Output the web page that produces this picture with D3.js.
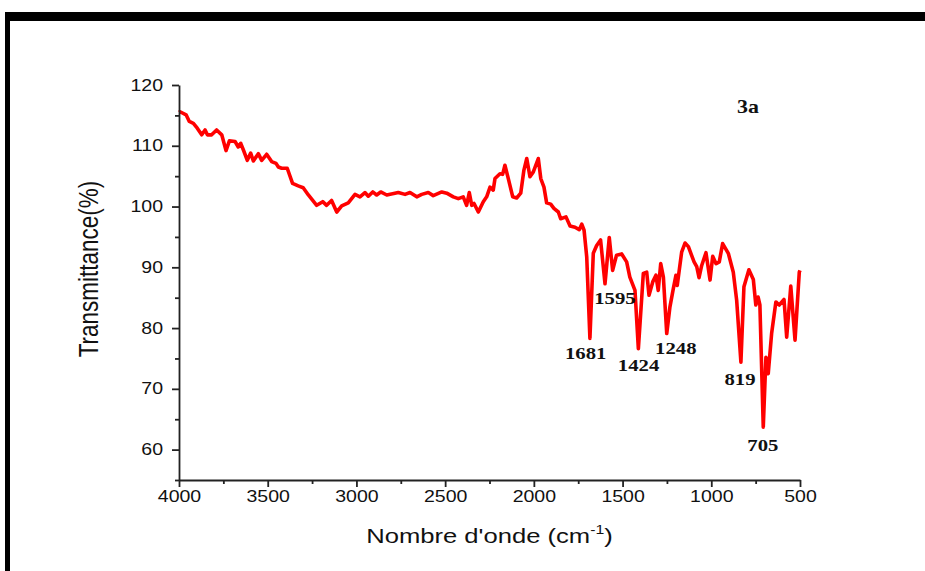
<!DOCTYPE html>
<html>
<head>
<meta charset="utf-8">
<script src="https://cdn.jsdelivr.net/npm/d3@7"></script>
<style>
  body { margin: 0; background: #fff; }
  svg { display: block; }
</style>
</head>
<body>
<div id="chart"></div>
<script>
// IR spectrum: [wavenumber cm-1, transmittance %]
const spectrum = [
  [4000,115.5],[3994,115.6],[3960,115.1],[3942,114.0],[3919,113.7],[3897,112.9],[3872,111.8],
  [3853,112.6],[3840,111.8],[3816,111.8],[3788,112.6],[3759,111.8],[3735,109.2],[3716,110.8],
  [3684,110.7],[3666,109.8],[3652,110.4],[3637,109.3],[3615,107.6],[3596,108.8],[3581,107.5],
  [3553,108.7],[3534,107.6],[3506,108.6],[3478,107.4],[3453,107.1],[3440,106.5],[3421,106.3],
  [3390,106.3],[3360,103.8],[3328,103.4],[3300,103.1],[3271,101.9],[3224,100.2],[3190,100.8],
  [3168,100.2],[3140,101.0],[3111,99.1],[3083,100.1],[3046,100.6],[3008,102.0],[2980,101.6],
  [2952,102.3],[2933,101.7],[2908,102.4],[2886,101.9],[2863,102.4],[2829,101.9],[2764,102.3],
  [2726,102.0],[2698,102.3],[2660,101.6],[2632,102.0],[2595,102.3],[2567,101.8],[2519,102.4],
  [2491,102.2],[2454,101.6],[2426,101.3],[2398,101.6],[2379,100.2],[2364,102.3],[2350,100.2],
  [2337,100.5],[2313,99.1],[2285,100.8],[2266,101.6],[2247,103.2],[2229,102.7],[2219,104.6],
  [2191,105.4],[2176,105.3],[2163,106.8],[2144,104.6],[2119,101.6],[2097,101.4],[2074,102.2],
  [2056,106.0],[2040,107.9],[2022,104.9],[2003,105.7],[1975,107.9],[1961,104.6],[1943,103.2],
  [1928,100.6],[1905,100.4],[1887,99.7],[1862,99.1],[1849,98.0],[1819,98.3],[1796,96.8],
  [1768,96.6],[1744,96.2],[1730,97.1],[1717,96.1],[1702,91.7],[1684,78.3],[1665,92.3],
  [1646,93.6],[1624,94.5],[1599,87.3],[1575,94.9],[1556,89.5],[1534,92.0],[1505,92.2],
  [1477,90.9],[1459,88.4],[1430,86.2],[1411,76.6],[1383,89.0],[1364,89.2],[1351,85.4],
  [1330,87.6],[1312,88.7],[1299,86.2],[1285,90.6],[1270,88.4],[1251,79.1],[1233,83.5],
  [1214,86.5],[1199,88.7],[1192,87.0],[1167,92.5],[1148,94.0],[1129,93.4],[1105,91.5],
  [1097,90.9],[1082,90.1],[1069,88.3],[1054,90.3],[1030,92.4],[1007,87.9],[992,91.8],
  [973,90.6],[955,90.9],[936,93.9],[904,92.3],[876,89.2],[857,84.6],[833,74.4],[816,86.8],
  [788,89.6],[763,88.0],[749,83.8],[736,85.1],[726,83.8],[707,63.7],[692,75.2],[679,72.5],
  [660,79.1],[636,84.3],[617,83.8],[590,84.7],[575,78.5],[552,86.9],[528,78.0],[504,89.2],
  [500,89.5]
];

// peak labels: text and where the label sits (wavenumber, transmittance at baseline)
const peakLabels = ["1681", "1595", "1424", "1248", "819", "705"];
const peakLabelWn = [1708, 1543, 1410, 1200, 838, 709];
const peakLabelT = [74.9, 84.0, 72.9, 75.7, 70.7, 59.7];

const xTicks = [4000, 3500, 3000, 2500, 2000, 1500, 1000, 500];
const xMinorTicks = [3750, 3250, 2750, 2250, 1750, 1250, 750];
const yTicks = [60, 70, 80, 90, 100, 110, 120];
const yMinorTicks = [55, 65, 75, 85, 95, 105, 115];

const W = 925, H = 571;
const margin = { top: 85, right: 125, bottom: 91, left: 179 };
const width = W - margin.left - margin.right;
const height = H - margin.top - margin.bottom;
const sx = 1.22; // the picture is a little wider than tall

const svg = d3.select("#chart").append("svg")
  .attr("width", W)
  .attr("height", H);

// black frame pieces (top and left)
svg.append("rect").attr("x", 5).attr("y", 12).attr("width", W - 5).attr("height", 9).attr("fill", "#000");
svg.append("rect").attr("x", 5).attr("y", 12).attr("width", 5).attr("height", H - 12).attr("fill", "#000");

const g = svg.append("g")
  .attr("transform", `translate(${margin.left},${margin.top})`);

const x = d3.scaleLinear().domain([4000, 500]).range([0, width]);
const y = d3.scaleLinear().domain([55, 120]).range([height, 0]);

// the spectrum
const line = d3.line()
  .x(d => x(d[0]))
  .y(d => y(d[1]));

g.append("path")
  .datum(spectrum)
  .attr("fill", "none")
  .attr("stroke", "#ff0000")
  .attr("stroke-width", 3.6)
  .attr("stroke-linejoin", "round")
  .attr("d", line);

// axes
const xAxis = g.append("g")
  .attr("transform", `translate(0,${height})`)
  .call(d3.axisBottom(x).tickValues(xTicks).tickFormat(d3.format("d")).tickSize(7).tickSizeOuter(0));
g.append("g")
  .attr("transform", `translate(0,${height})`)
  .call(d3.axisBottom(x).tickValues(xMinorTicks).tickSize(4).tickFormat("").tickSizeOuter(0))
  .select(".domain").remove();

const yAxis = g.append("g")
  .call(d3.axisLeft(y).tickValues(yTicks).tickSize(7).tickSizeOuter(0));
g.append("g")
  .call(d3.axisLeft(y).tickValues(yMinorTicks).tickSize(4).tickFormat("").tickSizeOuter(0))
  .select(".domain").remove();

g.selectAll(".domain, .tick line").attr("stroke", "#222").attr("stroke-width", 1.8);

xAxis.selectAll(".tick text")
  .attr("font-family", "Liberation Sans, Arial, sans-serif")
  .attr("font-size", 16)
  .attr("fill", "#111")
  .attr("y", 22).attr("dy", 0)
  .attr("transform", `scale(${sx},1)`);

yAxis.selectAll(".tick text")
  .attr("font-family", "Liberation Sans, Arial, sans-serif")
  .attr("font-size", 16)
  .attr("fill", "#111")
  .attr("x", -16 / sx)
  .attr("transform", `scale(${sx},1)`);

// axis titles
const xTitle = svg.append("g")
  .attr("transform", `translate(${margin.left + width / 2},${543})`)
  .append("text")
  .attr("transform", `scale(${sx},1)`)
  .attr("text-anchor", "middle")
  .attr("font-family", "Liberation Sans, Arial, sans-serif")
  .attr("font-size", 21)
  .attr("fill", "#111");
xTitle.append("tspan").text("Nombre d'onde (cm");
xTitle.append("tspan").attr("font-size", 13).attr("dy", -9).text("-1");
xTitle.append("tspan").attr("dy", 9).text(")");

svg.append("g")
  .attr("transform", `translate(${98},${269}) rotate(-90)`)
  .append("text")
  .attr("transform", `scale(1,${sx})`)
  .attr("text-anchor", "middle")
  .attr("font-family", "Liberation Sans, Arial, sans-serif")
  .attr("font-size", 22.5)
  .attr("fill", "#111")
  .text("Transmittance(%)");

// panel name
g.append("g")
  .attr("transform", `translate(${x(793)},${y(115.4)})`)
  .append("text")
  .attr("transform", `scale(${sx},1)`)
  .attr("text-anchor", "middle")
  .attr("font-family", "Liberation Serif, Times New Roman, serif")
  .attr("font-weight", "bold")
  .attr("font-size", 18)
  .attr("fill", "#111")
  .text("3a");

// peak labels
g.selectAll(".peak")
  .data(peakLabels)
  .enter()
  .append("g")
  .attr("class", "peak")
  .attr("transform", (d, i) => `translate(${x(peakLabelWn[i])},${y(peakLabelT[i])})`)
  .append("text")
  .attr("transform", `scale(${sx},1)`)
  .attr("text-anchor", "middle")
  .attr("font-family", "Liberation Serif, Times New Roman, serif")
  .attr("font-weight", "bold")
  .attr("font-size", 17)
  .attr("fill", "#111")
  .text(d => d);
</script>
</body>
</html>
